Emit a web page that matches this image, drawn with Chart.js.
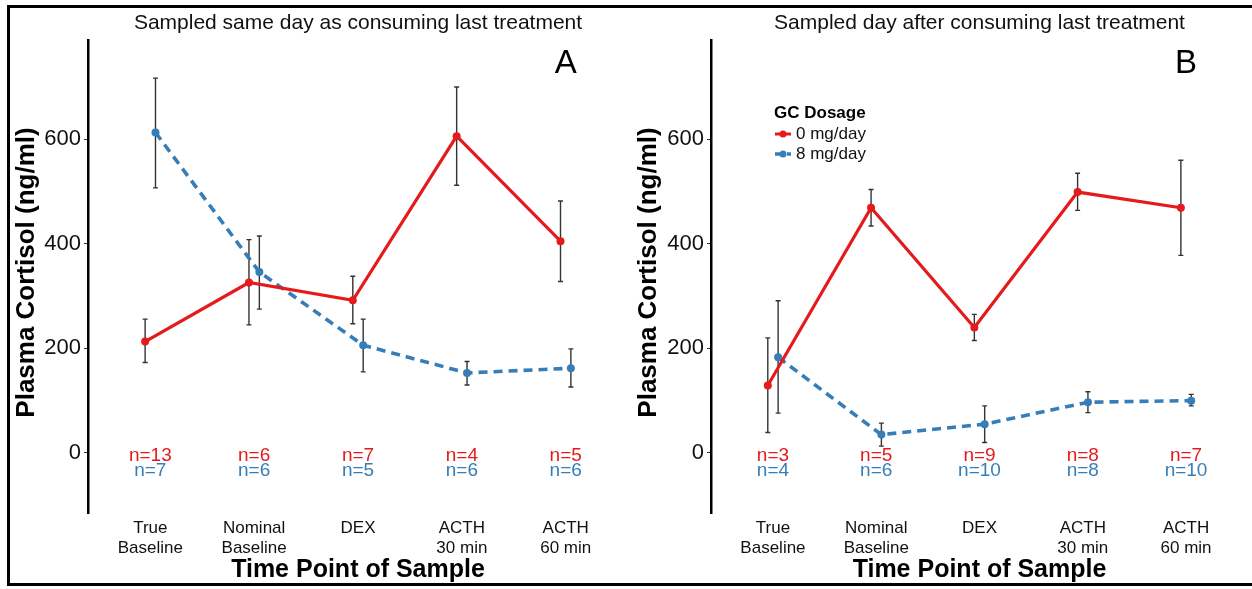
<!DOCTYPE html>
<html>
<head>
<meta charset="utf-8">
<script src="https://cdn.jsdelivr.net/npm/chart.js@4.4.0/dist/chart.umd.min.js"></script>
<style>
  html, body { margin: 0; padding: 0; background: #fff; }
  #wrap { position: relative; width: 1252px; height: 589px; overflow: hidden; background: #fff; }
  #cA { position: absolute; left: 0; top: 0; }
  #cB { position: absolute; left: 626px; top: 0; }
  #frame { position: absolute; left: 7px; top: 5px; right: -10px; height: 581px; box-sizing: border-box;
           border-top: 3px solid #000; border-bottom: 3px solid #000; border-left: 3px solid #000; pointer-events: none; }
</style>
</head>
<body>
<div id="wrap">
  <canvas id="cA" width="632" height="589"></canvas>
  <canvas id="cB" width="626" height="589"></canvas>
  <div id="frame"></div>
</div>
<script>
// ---------- data ----------
const categories = [["True", "Baseline"], ["Nominal", "Baseline"], ["DEX"], ["ACTH", "30 min"], ["ACTH", "60 min"]];
const yTicks = [0, 200, 400, 600];
const seriesNames = ["0 mg/day", "8 mg/day"];

// Panel A: sampled same day
const A_red_mean  = [213, 326, 292, 606, 405];
const A_red_lo    = [173, 245, 247, 512, 328];
const A_red_hi    = [256, 408, 338, 700, 482];
const A_blue_mean = [613, 346, 206, 153, 162];
const A_blue_lo   = [507, 275, 155, 130, 126];
const A_blue_hi   = [717, 415, 256, 175, 199];
const A_red_n     = ["n=13", "n=6", "n=7", "n=4", "n=5"];
const A_blue_n    = ["n=7", "n=6", "n=5", "n=6", "n=6"];

// Panel B: sampled day after
const B_red_mean  = [129, 469, 240, 499, 469];
const B_red_lo    = [39, 434, 215, 464, 378];
const B_red_hi    = [220, 504, 265, 535, 560];
const B_blue_mean = [183, 35, 55, 97, 100];
const B_blue_lo   = [76, 13, 20, 77, 90];
const B_blue_hi   = [291, 57, 90, 117, 112];
const B_red_n     = ["n=3", "n=5", "n=9", "n=8", "n=7"];
const B_blue_n    = ["n=4", "n=6", "n=10", "n=8", "n=10"];

// ---------- style ----------
const RED = "#E41A1C";
const BLUE = "#377EB8";
const FONT = "'Liberation Sans', Arial, Helvetica, sans-serif";
const DODGE = 0.05;

function makePanel(canvasId, cfg) {
  const red = cfg.redMean.map((v, i) => ({ x: i + 1 - DODGE, y: v, lo: cfg.redLo[i], hi: cfg.redHi[i] }));
  const blue = cfg.blueMean.map((v, i) => ({ x: i + 1 + DODGE, y: v, lo: cfg.blueLo[i], hi: cfg.blueHi[i] }));

  const overlay = {
    id: "overlay_" + canvasId,
    beforeDatasetsDraw(chart) {
      const ctx = chart.ctx, xs = chart.scales.x, ys = chart.scales.y;
      ctx.save();
      ctx.strokeStyle = "#333";
      ctx.lineWidth = 1.4;
      chart.data.datasets.forEach(ds => {
        ds.data.forEach(p => {
          const px = xs.getPixelForValue(p.x);
          const y1 = ys.getPixelForValue(p.lo), y2 = ys.getPixelForValue(p.hi);
          ctx.beginPath();
          ctx.moveTo(px, y1); ctx.lineTo(px, y2);
          ctx.moveTo(px - 2.5, y1); ctx.lineTo(px + 2.5, y1);
          ctx.moveTo(px - 2.5, y2); ctx.lineTo(px + 2.5, y2);
          ctx.stroke();
        });
      });
      ctx.restore();
    },
    afterDraw(chart) {
      const ctx = chart.ctx, xs = chart.scales.x, ys = chart.scales.y, ca = chart.chartArea;
      ctx.save();
      // n labels
      ctx.textAlign = "center";
      ctx.textBaseline = "middle";
      ctx.font = "19px " + FONT;
      cfg.redN.forEach((t, i) => {
        ctx.fillStyle = RED;
        ctx.fillText(t, xs.getPixelForValue(i + 1), ys.getPixelForValue(-5));
        ctx.fillStyle = BLUE;
        ctx.fillText(cfg.blueN[i], xs.getPixelForValue(i + 1), ys.getPixelForValue(-35));
      });
      // top title
      ctx.fillStyle = "#111";
      ctx.font = "21px " + FONT;
      ctx.fillText(cfg.title, (ca.left + ca.right) / 2, 23);
      // panel letter
      ctx.font = "33px " + FONT;
      ctx.fillStyle = "#000";
      ctx.fillText(cfg.letter, xs.getPixelForValue(5), 64);
      // x title
      ctx.font = "bold 25px " + FONT;
      ctx.fillText("Time Point of Sample", (ca.left + ca.right) / 2, 570);
      // y title
      ctx.save();
      ctx.translate(cfg.yTitleX, (ca.top + ca.bottom) / 2 - 4);
      ctx.rotate(-Math.PI / 2);
      ctx.font = "bold 26px " + FONT;
      ctx.fillText("Plasma Cortisol (ng/ml)", 0, 0);
      ctx.restore();
      // legend
      if (cfg.legend) {
        const L = cfg.legend;
        ctx.textAlign = "left";
        ctx.font = "bold 17px " + FONT;
        ctx.fillStyle = "#000";
        ctx.fillText("GC Dosage", L.x, L.y);
        const cols = [RED, BLUE];
        seriesNames.forEach((name, k) => {
          const yy = L.y + 21 + k * 20;
          ctx.strokeStyle = cols[k];
          ctx.lineWidth = k === 0 ? 3 : 3.5;
          ctx.setLineDash(k === 0 ? [] : [9, 3]);
          ctx.beginPath();
          ctx.moveTo(L.x + 1, yy); ctx.lineTo(L.x + 17, yy);
          ctx.stroke();
          ctx.setLineDash([]);
          ctx.fillStyle = cols[k];
          ctx.beginPath();
          ctx.arc(L.x + 9, yy, 3.5, 0, Math.PI * 2);
          ctx.fill();
          ctx.fillStyle = "#111";
          ctx.font = "17px " + FONT;
          ctx.fillText(name, L.x + 22, yy);
        });
      }
      ctx.restore();
    }
  };

  return new Chart(document.getElementById(canvasId), {
    type: "line",
    data: {
      datasets: [
        { label: seriesNames[0], data: red, borderColor: RED, backgroundColor: RED, borderWidth: 3.2,
          pointRadius: 4, pointBackgroundColor: RED, pointBorderWidth: 0, tension: 0 },
        { label: seriesNames[1], data: blue, borderColor: BLUE, backgroundColor: BLUE, borderWidth: 3.6,
          borderDash: [9, 6], pointRadius: 4, pointBackgroundColor: BLUE, pointBorderWidth: 0, tension: 0 }
      ]
    },
    options: {
      responsive: false,
      animation: false,
      layout: { padding: { left: 0, right: cfg.padRight, top: 40, bottom: 0 } },
      plugins: { legend: { display: false }, tooltip: { enabled: false }, title: { display: false } },
      scales: {
        x: {
          type: "linear", min: 0.4, max: 5.6,
          afterBuildTicks: s => { s.ticks = categories.map((c, i) => ({ value: i + 1 })); },
          afterFit: s => { s.height = 76; },
          grid: { display: false, drawTicks: false },
          border: { display: false },
          ticks: {
            padding: 6, color: "#111", maxRotation: 0, autoSkip: false,
            font: { family: FONT, size: 17, lineHeight: 1.15 },
            callback: v => categories[Math.round(v) - 1]
          }
        },
        y: {
          type: "linear", min: -115, max: 790,
          afterBuildTicks: s => { s.ticks = yTicks.map(v => ({ value: v })); },
          afterFit: s => { s.width = cfg.yWidth; },
          grid: { display: true, drawOnChartArea: false, drawTicks: true, tickLength: 4, color: "#333", lineWidth: 1 },
          border: { display: true, color: "#000", width: 2.5 },
          ticks: { padding: 3, color: "#111", font: { family: FONT, size: 22 } }
        }
      }
    },
    plugins: [overlay]
  });
}

makePanel("cA", {
  redMean: A_red_mean, redLo: A_red_lo, redHi: A_red_hi,
  blueMean: A_blue_mean, blueLo: A_blue_lo, blueHi: A_blue_hi,
  redN: A_red_n, blueN: A_blue_n,
  title: "Sampled same day as consuming last treatment", letter: "A",
  yWidth: 88, padRight: 4, yTitleX: 27, legend: null
});
makePanel("cB", {
  redMean: B_red_mean, redLo: B_red_lo, redHi: B_red_hi,
  blueMean: B_blue_mean, blueLo: B_blue_lo, blueHi: B_blue_hi,
  redN: B_red_n, blueN: B_blue_n,
  title: "Sampled day after consuming last treatment", letter: "B",
  yWidth: 85, padRight: 0, yTitleX: 23, legend: { x: 148, y: 113 }
});
</script>
</body>
</html>
